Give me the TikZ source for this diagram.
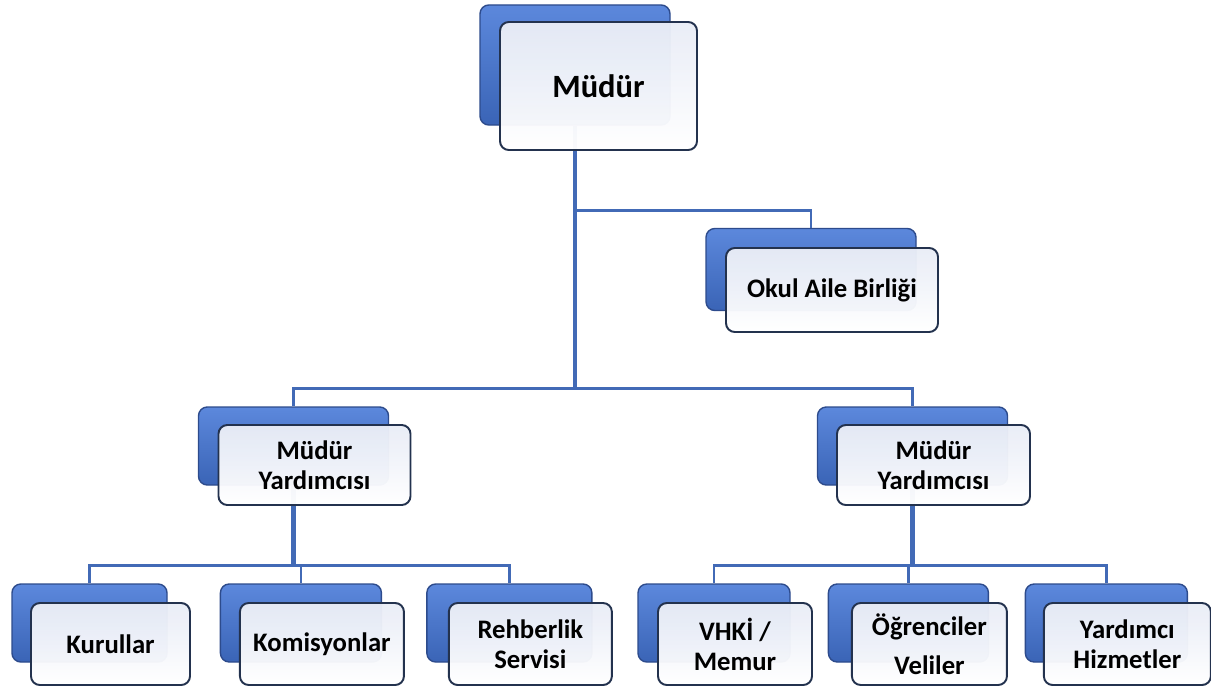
\documentclass[tikz,border=0pt]{standalone}
\usepackage{fontspec}
\setmainfont{Carlito}
\usepackage{tikz}
\usetikzlibrary{positioning,calc}
\usetikzlibrary{backgrounds}
\definecolor{boxblue}{RGB}{92,136,220}
\definecolor{boxbluedark}{RGB}{58,100,182}
\definecolor{boxrim}{RGB}{45,75,140}
\definecolor{cardrim}{RGB}{35,50,78}
\definecolor{cardtop}{RGB}{232,236,246}
\definecolor{wireblue}{RGB}{66,106,182}

\begin{document}
\begin{tikzpicture}[
  card/.style = {
    draw = cardrim,
    line width = 1.1pt,
    rectangle,
    rounded corners = 5pt,
    top color = cardtop,
    bottom color = white,
    fill opacity = 0.97,
    text opacity = 1,
    align = center,
    font = \bfseries\fontsize{15.2}{17}\selectfont,
  },
  cardback/.style = {
    draw = boxrim,
    line width = 0.8pt,
    rectangle,
    rounded corners = 5pt,
    top color = boxblue,
    bottom color = boxbluedark,
  },
  wire/.style = {
    draw = wireblue,
    line width = 1.5pt,
  },
  trunk/.style = {
    wire,
    line width = 2.3pt,
  },
]

  \useasboundingbox (0,0) rectangle (24.22,-13.8);

  \node[card,minimum width=3.94cm,minimum height=2.56cm,font=\bfseries\fontsize{18.5}{21}\selectfont] (mdr) at (11.97,-1.72) {Müdür};

  \node[card,minimum width=4.24cm,minimum height=1.68cm] (oab) at (16.64,-5.80) {Okul Aile Birliği};

  \node[card,minimum width=3.84cm,minimum height=1.6cm] (my0) at (6.29,-9.30) {Müdür\\Yardımcısı};
  \node[card,minimum width=3.86cm,minimum height=1.6cm] (my1) at (18.67,-9.30) {Müdür\\Yardımcısı};

  \node[card,minimum width=3.18cm,minimum height=1.64cm] (c00) at (2.21,-12.88) {Kurullar};
  \node[card,minimum width=3.28cm,minimum height=1.64cm] (c01) [right=0.96cm of c00] {Komisyonlar};
  \node[card,minimum width=3.26cm,minimum height=1.64cm] (c02) [right=0.86cm of c01] {Rehberlik\\Servisi};

  \node[card,minimum width=3.08cm,minimum height=1.64cm] (c10) at (14.70,-12.88) {VHKİ /\\Memur};
  \node[card,minimum width=3.10cm,minimum height=1.64cm] (c11) [right=0.76cm of c10] {Öğrenciler\\[5pt]Veliler};
  \node[card,minimum width=3.34cm,minimum height=1.64cm] (c12) [right=0.70cm of c11] {Yardımcı\\Hizmetler};

  \begin{scope}[on background layer]
    \node[cardback,minimum width=3.8cm,minimum height=2.4cm] (mdrB) at ([shift={(-0.47,0.42)}]mdr.center) {};
    \node[cardback,minimum width=4.2cm,minimum height=1.64cm] (oabB) at ([shift={(-0.42,0.41)}]oab.center) {};
    \node[cardback,minimum width=3.8cm,minimum height=1.56cm] (my0B) at ([shift={(-0.42,0.38)}]my0.center) {};
    \node[cardback,minimum width=3.8cm,minimum height=1.56cm] (my1B) at ([shift={(-0.42,0.38)}]my1.center) {};
    \node[cardback,minimum width=3.1cm,minimum height=1.56cm] (c00B) at ([shift={(-0.42,0.42)}]c00.center) {};
    \node[cardback,minimum width=3.22cm,minimum height=1.56cm] (c01B) at ([shift={(-0.42,0.42)}]c01.center) {};
    \node[cardback,minimum width=3.3cm,minimum height=1.56cm] (c02B) at ([shift={(-0.42,0.42)}]c02.center) {};
    \node[cardback,minimum width=3.04cm,minimum height=1.56cm] (c10B) at ([shift={(-0.42,0.42)}]c10.center) {};
    \node[cardback,minimum width=3.2cm,minimum height=1.56cm] (c11B) at ([shift={(-0.42,0.42)}]c11.center) {};
    \node[cardback,minimum width=3.24cm,minimum height=1.56cm] (c12B) at ([shift={(-0.42,0.42)}]c12.center) {};

    % connectors, top level
    \coordinate (bus0) at ($(my0B.north)+(0,0.36)$);
    \draw[trunk] (mdrB.south) -- (mdrB.south |- bus0);
    \draw[wire] (oabB.north) -- ++(0,0.34) -| (mdrB.south);
    \draw[wire] (my0B.north) -- (bus0) -| (my1B.north);

    % left group
    \coordinate (busL) at ($(c00B.north)+(0,0.36)$);
    \draw[trunk] (my0B.south) -- (my0B.south |- busL);
    \draw[wire] (c00B.north) -- (busL) -| (c02B.north);
    \draw[wire] (c01B.north) -- (c01B.north |- busL);

    % right group
    \coordinate (busR) at ($(c10B.north)+(0,0.36)$);
    \draw[trunk] (my1B.south) -- (my1B.south |- busR);
    \draw[wire] (c10B.north) -- (busR) -| (c12B.north);
    \draw[wire] (c11B.north) -- (c11B.north |- busR);
  \end{scope}

\end{tikzpicture}
\end{document}
